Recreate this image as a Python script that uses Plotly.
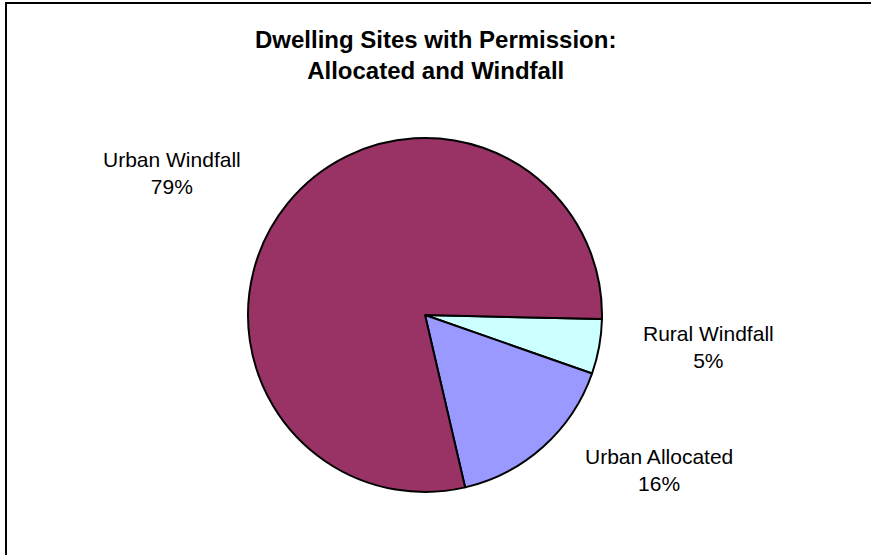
import plotly.graph_objects as go

# Dwelling sites with permission, by category (share of total, %)
categories = ["Rural Windfall", "Urban Allocated", "Urban Windfall"]
shares = [5, 16, 79]
slice_colors = ["#CCFFFF", "#9999FF", "#993366"]

# Label anchor points (pixels) for each category
label_x = [708, 659, 172]
label_y = [347, 470, 173]

W, H = 871, 555

# Pie placement: centre and radius in pixels
cx, cy, r = 425, 315, 177

fig = go.Figure()
fig.add_trace(go.Pie(
    labels=categories,
    values=shares,
    sort=False,
    direction="clockwise",
    rotation=91.3,
    marker=dict(colors=slice_colors, line=dict(color="black", width=2)),
    textinfo="none",
    hoverinfo="label+percent",
    showlegend=False,
    domain=dict(x=[(cx - r) / W, (cx + r) / W], y=[1 - (cy + r) / H, 1 - (cy - r) / H]),
))

total = sum(shares)
for name, v, px, py in zip(categories, shares, label_x, label_y):
    fig.add_annotation(
        x=px / W, y=1 - py / H, xref="paper", yref="paper",
        text=f"{name}<br>{round(100 * v / total)}%",
        showarrow=False, xanchor="center", yanchor="middle",
        font=dict(family="Liberation Sans, Arial, sans-serif", size=21, color="black"),
    )

# Chart title
fig.add_annotation(
    x=435 / W, y=1 - 54.5 / H, xref="paper", yref="paper",
    text="<b>Dwelling Sites with Permission:<br>Allocated and Windfall</b>",
    showarrow=False, xanchor="center", yanchor="middle",
    font=dict(family="Liberation Sans, Arial, sans-serif", size=24, color="black"),
)

# Chart area border
fig.add_shape(
    type="rect", xref="paper", yref="paper",
    x0=6 / W, x1=1.02, y0=-0.02, y1=1 - 3 / H,
    line=dict(color="black", width=2), fillcolor="rgba(0,0,0,0)",
)

fig.update_layout(
    width=W, height=H,
    margin=dict(l=0, r=0, t=0, b=0),
    paper_bgcolor="white", plot_bgcolor="white",
)

fig.write_html("out.html")
